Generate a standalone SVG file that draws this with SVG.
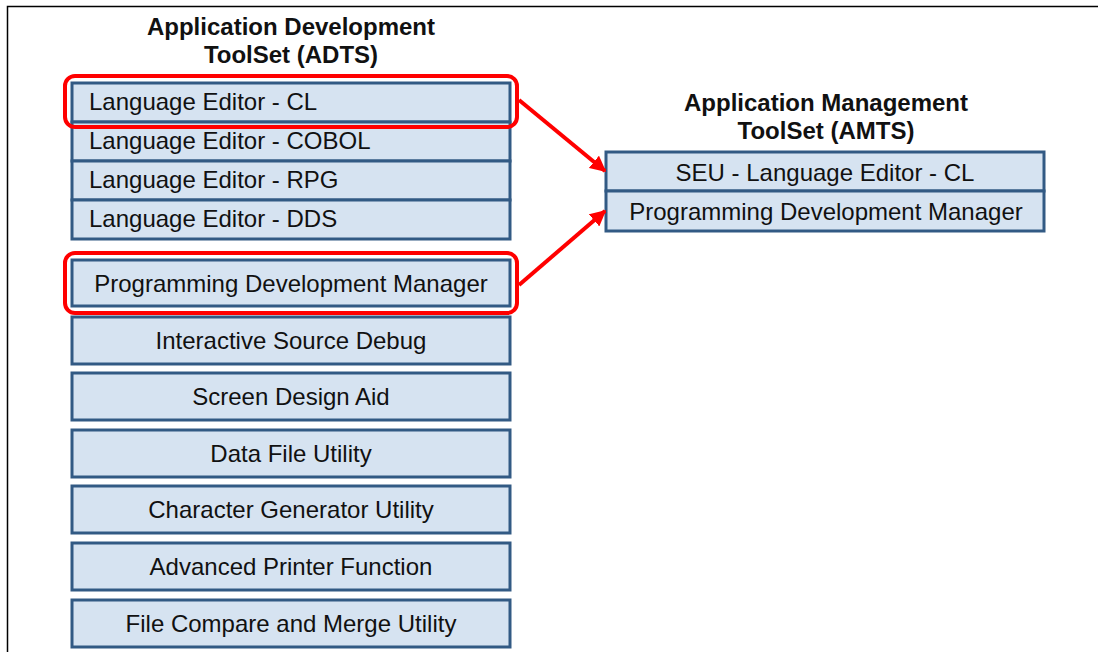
<svg xmlns="http://www.w3.org/2000/svg" width="1098" height="652" viewBox="0 0 1098 652">
<style>
.box{fill:#d6e3f1;stroke:#325a84;stroke-width:3}
.t{font-family:"Liberation Sans",Arial,sans-serif;font-size:24px;fill:#111}
.c{text-anchor:middle}
.h{font-family:"Liberation Sans",Arial,sans-serif;font-size:24px;font-weight:bold;fill:#111;text-anchor:middle}
.hl{fill:none;stroke:#f00;stroke-width:4}
.arr{stroke:#f00;stroke-width:4;fill:none}
</style>
<defs>
<marker id="ah" viewBox="0 0 10 10" refX="9" refY="5" markerWidth="4" markerHeight="4" orient="auto" markerUnits="strokeWidth">
<path d="M0,0 L10,5 L0,10 z" fill="#f00"/>
</marker>
</defs>
<rect width="1098" height="652" fill="#fff"/>
<path d="M7.5,652 V6.5 H1098" fill="none" stroke="#000" stroke-width="1.5"/>
<g id="adts-title">
<text class="h" x="291" y="35">Application Development</text>
<text class="h" x="291" y="63">ToolSet (ADTS)</text>
</g>
<g id="amts-title">
<text class="h" x="826" y="111">Application Management</text>
<text class="h" x="826" y="139">ToolSet (AMTS)</text>
</g>
<g id="le-cl"><rect class="box" x="72" y="83" width="438" height="39"/><text class="t" x="89" y="110">Language Editor - CL</text></g>
<g id="le-cobol"><rect class="box" x="72" y="122" width="438" height="39"/><text class="t" x="89" y="149">Language Editor - COBOL</text></g>
<g id="le-rpg"><rect class="box" x="72" y="161" width="438" height="39"/><text class="t" x="89" y="188">Language Editor - RPG</text></g>
<g id="le-dds"><rect class="box" x="72" y="200" width="438" height="39"/><text class="t" x="89" y="227">Language Editor - DDS</text></g>
<g id="pdm"><rect class="box" x="72" y="260" width="438" height="46"/><text class="t c" x="291" y="292">Programming Development Manager</text></g>
<g id="isd"><rect class="box" x="72" y="317" width="438" height="47"/><text class="t c" x="291" y="349">Interactive Source Debug</text></g>
<g id="sda"><rect class="box" x="72" y="373" width="438" height="47"/><text class="t c" x="291" y="405">Screen Design Aid</text></g>
<g id="dfu"><rect class="box" x="72" y="430" width="438" height="47"/><text class="t c" x="291" y="462">Data File Utility</text></g>
<g id="cgu"><rect class="box" x="72" y="486" width="438" height="47"/><text class="t c" x="291" y="518">Character Generator Utility</text></g>
<g id="apf"><rect class="box" x="72" y="543" width="438" height="47"/><text class="t c" x="291" y="575">Advanced Printer Function</text></g>
<g id="fcmu"><rect class="box" x="72" y="600" width="438" height="47"/><text class="t c" x="291" y="632">File Compare and Merge Utility</text></g>
<g id="amts-seu"><rect class="box" x="606" y="152" width="438" height="39"/><text class="t c" x="825" y="181">SEU - Language Editor - CL</text></g>
<g id="amts-pdm"><rect class="box" x="606" y="191" width="438" height="40"/><text class="t c" x="826" y="220">Programming Development Manager</text></g>
<g id="hl-cl"><rect class="hl" x="65" y="76" width="452" height="51" rx="10"/></g>
<g id="hl-pdm"><rect class="hl" x="65" y="253" width="452" height="60" rx="10"/></g>
<g id="connectors">
<line class="arr" x1="519" y1="100" x2="605" y2="171" marker-end="url(#ah)"/>
<line class="arr" x1="519" y1="285" x2="605" y2="211" marker-end="url(#ah)"/>
</g>
</svg>
